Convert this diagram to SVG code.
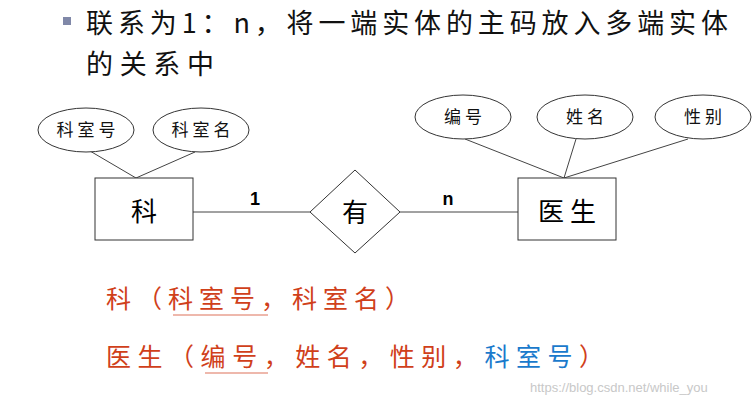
<svg xmlns="http://www.w3.org/2000/svg" width="755" height="413" viewBox="0 0 755 413">
<style>
.t{font-family:"Noto Sans CJK SC","Liberation Sans",sans-serif;}
.s{fill:#fff;stroke:#333;stroke-width:1}
.l{stroke:#444;stroke-width:1;fill:none}
.a{font-size:17px;text-anchor:middle;fill:#111;letter-spacing:4px}
.r{font-size:25px;fill:#d0401a}
</style>
<rect width="755" height="413" fill="#fff"/>
<rect x="63" y="17" width="8" height="8" fill="#8088a8"/>
<text class="t" x="86" y="33" font-size="27" fill="#111" textLength="642" lengthAdjust="spacing">联系为1：n，将一端实体的主码放入多端实体</text>
<text class="t" x="86" y="74" font-size="27" fill="#111" textLength="128" lengthAdjust="spacing">的关系中</text>
<g id="connectors">
<line class="l" x1="90" y1="151" x2="136" y2="178"/>
<line class="l" x1="195" y1="152" x2="136" y2="178"/>
<line class="l" x1="193" y1="212" x2="310" y2="212"/>
<line class="l" x1="400" y1="212" x2="518" y2="212"/>
<line class="l" x1="465" y1="139" x2="564" y2="178"/>
<line class="l" x1="576" y1="139" x2="564" y2="178"/>
<line class="l" x1="688" y1="139" x2="564" y2="178"/>
<text x="255" y="205" font-family="Liberation Sans,sans-serif" font-weight="bold" font-size="18" text-anchor="middle">1</text>
<text x="448" y="205" font-family="Liberation Sans,sans-serif" font-weight="bold" font-size="18" text-anchor="middle">n</text>
</g>
<g id="ke"><rect class="s" x="95" y="178" width="98" height="62"/><text class="t" x="144" y="221" font-size="26" text-anchor="middle">科</text></g>
<g id="ys"><rect class="s" x="518" y="178" width="98" height="62"/><text class="t" x="567" y="221" font-size="26" text-anchor="middle">医 生</text></g>
<g id="you"><polygon class="s" points="355,170 400,212 355,253 310,212"/><text class="t" x="355" y="222" font-size="26" text-anchor="middle">有</text></g>
<g id="a1"><ellipse class="s" cx="86" cy="130" rx="48" ry="22"/><text class="t a" x="88" y="136">科室号</text></g>
<g id="a2"><ellipse class="s" cx="201" cy="130" rx="48" ry="22"/><text class="t a" x="203" y="136">科室名</text></g>
<g id="a3"><ellipse class="s" cx="463" cy="117" rx="48" ry="22"/><text class="t a" x="465" y="123">编号</text></g>
<g id="a4"><ellipse class="s" cx="585" cy="117" rx="48" ry="22"/><text class="t a" x="587" y="123">姓名</text></g>
<g id="a5"><ellipse class="s" cx="703" cy="117" rx="48" ry="22"/><text class="t a" x="705" y="123">性别</text></g>
<text class="t r" x="106" y="308" textLength="304" lengthAdjust="spacing">科（科室号，科室名）</text>
<line x1="173" y1="315" x2="268" y2="315" stroke="#e8a090" stroke-width="1.5"/>
<text class="t r" x="106" y="366" textLength="498" lengthAdjust="spacing">医生（编号，姓名，性别，<tspan fill="#1a7acc">科室号</tspan>）</text>
<line x1="205" y1="373" x2="268" y2="373" stroke="#e8a090" stroke-width="1.5"/>
<text x="530" y="392" font-family="Liberation Sans,sans-serif" font-size="13" fill="#c8c8c8">https://blog.csdn.net/while_you</text>
</svg>
